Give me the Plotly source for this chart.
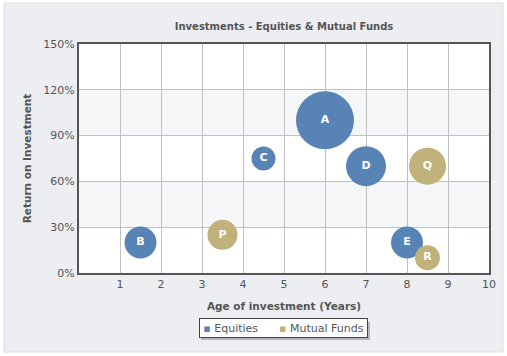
import plotly.graph_objects as go

# Data
eq_labels = ["A", "B", "C", "D", "E"]
eq_age = [6, 1.5, 4.5, 7, 8]
eq_return = [100, 20, 75, 70, 20]
eq_size = [58, 32, 24, 40, 32]

mf_labels = ["P", "Q", "R"]
mf_age = [3.5, 8.5, 8.5]
mf_return = [25, 70, 10]
mf_size = [30, 37, 25]

x_ticks = [1, 2, 3, 4, 5, 6, 7, 8, 9, 10]
y_ticks = [0, 30, 60, 90, 120, 150]
y_tick_text = ["0%", "30%", "60%", "90%", "120%", "150%"]

BLUE = "#5883B5"
GOLD = "#C0B27A"
FONT = "DejaVu Sans"

fig = go.Figure()

def bubbles(name, xs, ys, sizes, labels, color):
    fig.add_trace(go.Scatter(
        x=xs, y=ys, mode="markers+text", text=["<b>%s</b>" % t for t in labels],
        name=name, textposition="middle center",
        textfont=dict(family=FONT, size=11, color="white"),
        marker=dict(size=sizes, sizemode="diameter", color=color,
                    line=dict(width=0), opacity=1),
        showlegend=False, hoverinfo="x+y+name",
    ))

bubbles("Equities", eq_age, eq_return, eq_size, eq_labels, BLUE)
bubbles("Mutual Funds", mf_age, mf_return, mf_size, mf_labels, GOLD)

L, R, T, B = 79, 18, 44, 83
PW, PH = 507 - L - R, 356 - T - B

def px(x):
    return (x - L) / PW

def py(y):
    return (356 - B - y) / PH

shapes = [
    dict(type="rect", xref="paper", yref="paper",
         x0=px(4), x1=px(503), y0=py(352), y1=py(3),
         fillcolor="#ECEEF2", line=dict(color="#D9DCE1", width=1), layer="below"),
    dict(type="rect", xref="x", yref="y", x0=0, x1=10, y0=0, y1=150,
         fillcolor="white", line=dict(width=0), layer="below"),
    dict(type="rect", xref="x", yref="y", x0=0, x1=10, y0=30, y1=60,
         fillcolor="#F4F6F8", line=dict(width=0), layer="below"),
    dict(type="rect", xref="x", yref="y", x0=0, x1=10, y0=90, y1=120,
         fillcolor="#F4F6F8", line=dict(width=0), layer="below"),
    # legend shadow
    dict(type="rect", xref="paper", yref="paper",
         x0=px(201), x1=px(370), y0=py(340), y1=py(322),
         fillcolor="#B4B7BC", line=dict(width=0), layer="below"),
]

legend_text = (
    '<span style="color:%s">▪</span> Equities'
    '      <span style="color:%s">▪</span> Mutual Funds' % (BLUE, GOLD)
)

annotations = [
    dict(text=legend_text, xref="paper", yref="paper", x=px(283.5), y=py(328),
         xanchor="center", yanchor="middle", showarrow=False,
         font=dict(family=FONT, size=11, color="#555555"),
         bgcolor="white", bordercolor="#444444", borderwidth=1, borderpad=2,
         width=163, height=14),
]

fig.update_layout(
    width=507, height=356,
    margin=dict(l=L, r=R, t=T, b=B, autoexpand=False),
    paper_bgcolor="white",
    plot_bgcolor="white",
    font=dict(family=FONT, size=11, color="#555555"),
    title=dict(text="<b>Investments - Equities & Mutual Funds</b>",
               x=284 / 507, xanchor="center", y=1 - 26 / 356, yanchor="middle",
               font=dict(family=FONT, size=10, color="#555555")),
    xaxis=dict(range=[0, 10], tickvals=x_ticks, showgrid=True, gridcolor="#C0C0C0",
               gridwidth=1, zeroline=False, showline=True, linecolor="#555555",
               linewidth=2, mirror=True, ticks="", automargin=False,
               tickfont=dict(size=11, color="#555555"),
               title=dict(text="<b>Age of investment (Years)</b>", standoff=12,
                          font=dict(size=10.5, color="#555555"))),
    yaxis=dict(range=[0, 150], tickvals=y_ticks, ticktext=y_tick_text, showgrid=True,
               gridcolor="#C0C0C0", gridwidth=1, zeroline=False, showline=True,
               linecolor="#555555", linewidth=2, mirror=True, ticks="",
               automargin=False, tickfont=dict(size=11, color="#555555"),
               title=dict(text="<b>Return on Investment</b>", standoff=10,
                          font=dict(size=10.5, color="#555555"))),
    shapes=shapes,
    annotations=annotations,
    showlegend=False,
)

fig.write_html("out.html", config={"displayModeBar": False},
               post_script="document.body.style.margin='0';document.body.style.padding='0';")
